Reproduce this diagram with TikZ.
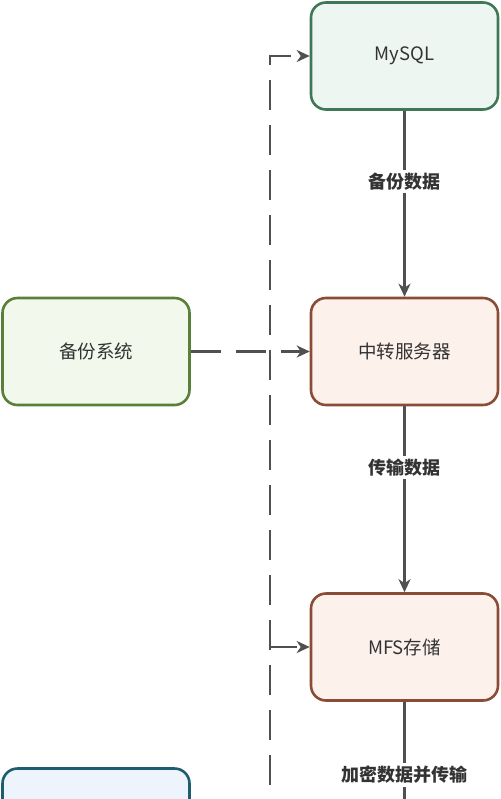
\documentclass[tikz,border=0pt]{standalone}
\usepackage{fontspec}
\setmainfont{Noto Sans CJK SC}
\usetikzlibrary{arrows.meta}
\definecolor{gfill}{HTML}{EEF6F1}
\definecolor{gdraw}{HTML}{3F7757}
\definecolor{lgfill}{HTML}{F2F8EC}
\definecolor{lgdraw}{HTML}{58803A}
\definecolor{bfill}{HTML}{FDF1EC}
\definecolor{bdraw}{HTML}{8A4C36}
\definecolor{blfill}{HTML}{EEF4FB}
\definecolor{bldraw}{HTML}{1E5D70}
\definecolor{linec}{HTML}{505050}
\definecolor{txt}{HTML}{333333}
\begin{document}
\begin{tikzpicture}[x=1pt,y=-1pt,
  box/.style={rounded corners=15pt, line width=2.6pt, minimum width=187pt, minimum height=107pt, inner sep=0pt, text=txt, font=\fontsize{18.5}{22}\selectfont},
  greenbox/.style={box, draw=gdraw, fill=gfill},
  lgreenbox/.style={box, draw=lgdraw, fill=lgfill},
  brownbox/.style={box, draw=bdraw, fill=bfill},
  bluebox/.style={box, draw=bldraw, fill=blfill},
  conn/.style={draw=linec, line width=2.6pt, -{Stealth[length=13pt,width=12pt,inset=4pt]}},
  dconn/.style={conn, dash pattern=on 30pt off 15pt},
  lab/.style={fill=white, text=txt, font=\bfseries\fontsize{18}{22}\selectfont, inner sep=3pt}
]
\useasboundingbox (0,0) rectangle (500,799);
\clip (0,0) rectangle (500,799);
\node[greenbox] (mysql) at (404.5,56) {MySQL};
\node[brownbox] (relay) at (404.5,351.5) {中转服务器};
\node[brownbox] (mfs) at (404.5,647) {MFS存储};
\node[lgreenbox] (backup) at (96,351.5) {备份系统};
\node[bluebox] (blue) at (96,822) {};
\coordinate (below) at (404.5,830);
\coordinate (dsrc) at (270,830);
\draw[conn] (mysql) -- node[lab, pos=0.38] {备份数据} (relay);
\draw[conn] (relay) -- node[lab, pos=0.33] {传输数据} (mfs);
\draw[draw=linec, line width=2.6pt] (mfs) -- (below);
\node[lab] (lab3) at (404.5,775) {加密数据并传输};
\draw[dconn] (backup) -- (relay);
\draw[dconn] (dsrc) |- (mysql.west);
\draw[dconn] (dsrc) |- (mfs.west);
\end{tikzpicture}
\end{document}
